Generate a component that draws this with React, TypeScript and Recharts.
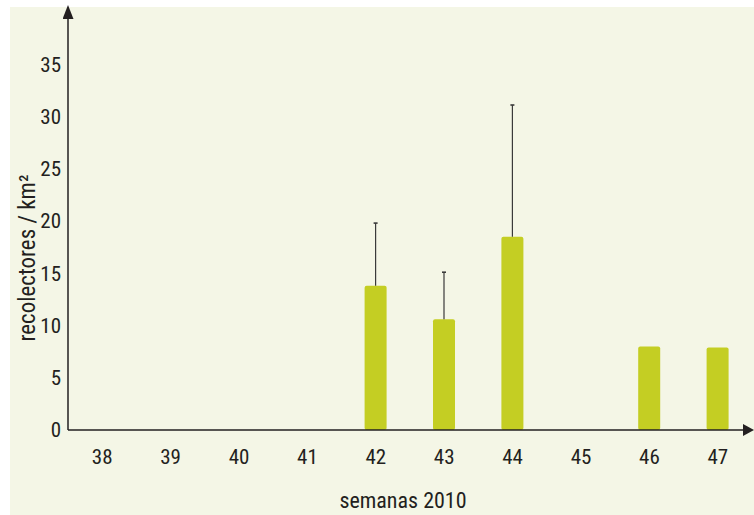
import React from 'react';
import { BarChart, Bar, XAxis, YAxis, Label } from 'recharts';

const weeks = ['38', '39', '40', '41', '42', '43', '44', '45', '46', '47'];
const density = [0, 0, 0, 0, 13.8, 10.6, 18.5, 0, 8.0, 7.9];
const errorUp = [0, 0, 0, 0, 6.0, 4.5, 12.6, 0, 0, 0];
const yTicks = [0, 5, 10, 15, 20, 25, 30, 35];

const data = weeks.map((w, i) => ({ week: w, value: density[i], err: errorUp[i] }));

const FONT = "'Liberation Sans Narrow', 'Roboto Condensed', 'Roboto', sans-serif";
const TEXT = '#231f20';
const BAR = '#c4ce23';
const BG = '#f4f6e6';

const ErrorShape = (props: any) => {
  const { x, y, width, height } = props;
  if (!height || height <= 0) return null;
  const cx = x + width / 2;
  return (
    <g>
      <line x1={cx} y1={y} x2={cx} y2={y + height} stroke="#3a3a3a" strokeWidth={1.2} />
      <line x1={cx - 2} y1={y} x2={cx + 2} y2={y} stroke="#3a3a3a" strokeWidth={1.6} />
    </g>
  );
};

export default function App() {
  return (
    <div style={{ position: 'absolute', left: 0, top: 0, width: 754, height: 515 }}>
      <div style={{ position: 'absolute', left: 10, top: 7, width: 744, height: 508, background: BG }} />
      <div style={{ position: 'absolute', left: 0, top: 0 }}>
        <BarChart
          width={754}
          height={515}
          data={data}
          margin={{ top: 12, right: 2, bottom: 0, left: 0 }}
          barCategoryGap={0}
        >
          <defs>
            <marker id="arrY" viewBox="0 0 14 11" markerWidth={14} markerHeight={11} refX={7} refY={5.5} orient="auto-start-reverse" markerUnits="userSpaceOnUse">
              <path d="M0,0 L14,5.5 L0,11 z" fill={TEXT} />
            </marker>
            <marker id="arrX" viewBox="0 0 11 12" markerWidth={11} markerHeight={12} refX={9} refY={6} orient="auto" markerUnits="userSpaceOnUse">
              <path d="M0,0 L11,6 L0,12 z" fill={TEXT} />
            </marker>
          </defs>
          <XAxis
            dataKey="week"
            height={85}
            tickLine={false}
            tickSize={0}
            tickMargin={19}
            axisLine={{ stroke: TEXT, strokeWidth: 1.5, markerEnd: 'url(#arrX)' } as any}
            tick={{ fill: TEXT, fontSize: 21, fontFamily: FONT }}
            interval={0}
          >
            <Label
              content={() => (
                <text x={403} y={500} textAnchor="middle" dominantBaseline="central" fill={TEXT} fontSize={22} fontFamily={FONT}>
                  semanas 2010
                </text>
              )}
            />
          </XAxis>
          <YAxis
            width={68}
            domain={[0, 40]}
            ticks={yTicks}
            tickLine={false}
            tickSize={0}
            tickMargin={7}
            axisLine={{ stroke: TEXT, strokeWidth: 1.5, markerStart: 'url(#arrY)' } as any}
            tick={{ fill: TEXT, fontSize: 21, fontFamily: FONT }}
            allowDataOverflow
          >
            <Label
              content={() => (
                <text x={27} y={258} transform="rotate(-90 27 258)" textAnchor="middle" dominantBaseline="central" fill={TEXT} fontSize={23} fontFamily={FONT}>
                  recolectores / km²
                </text>
              )}
            />
          </YAxis>
          <Bar dataKey="value" stackId="a" fill={BAR} barSize={22} radius={2} isAnimationActive={false} />
          <Bar dataKey="err" stackId="a" barSize={22} shape={ErrorShape} isAnimationActive={false} />
        </BarChart>
      </div>
    </div>
  );
}
